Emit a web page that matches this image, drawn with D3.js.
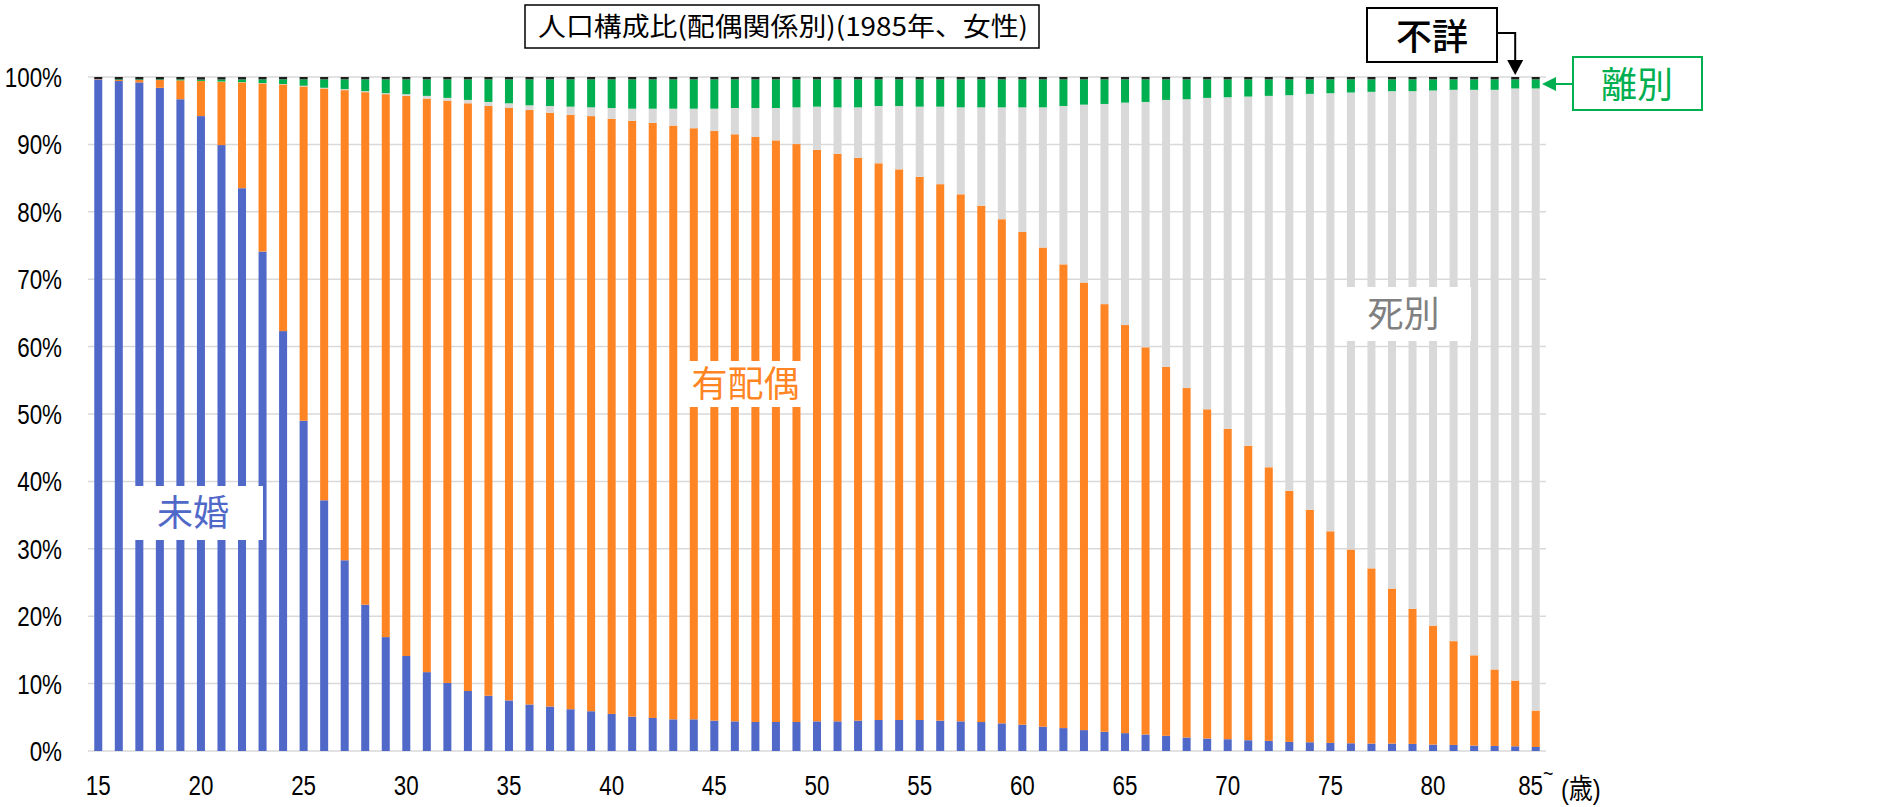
<!DOCTYPE html>
<html>
<head>
<meta charset="utf-8">
<script src="https://cdn.jsdelivr.net/npm/d3@7"></script>
<style>
  body { margin: 0; background: #fff; }
  svg { display: block; }
  .tick-label { font-family: "Liberation Sans", "Noto Sans CJK JP", sans-serif; font-size: 28px; fill: #000; }
  .cjk { font-family: "Noto Sans CJK JP", sans-serif; }
</style>
</head>
<body>
<svg width="1883" height="807"></svg>
<script>
// age groups (15 .. 85~)
var ages = ["15","16","17","18","19","20","21","22","23","24","25","26","27","28","29",
  "30","31","32","33","34","35","36","37","38","39","40","41","42","43","44",
  "45","46","47","48","49","50","51","52","53","54","55","56","57","58","59",
  "60","61","62","63","64","65","66","67","68","69","70","71","72","73","74",
  "75","76","77","78","79","80","81","82","83","84","85~"];

// share of each marital status, %
var mikon = [99.65,99.4,99.2,98.4,96.7,94.2,89.9,83.5,74.1,62.3,49.0,37.2,28.3,21.7,16.9,
  14.1,11.7,10.1,8.9,8.2,7.5,6.9,6.6,6.2,5.9,5.5,5.1,4.9,4.7,4.7,
  4.5,4.4,4.3,4.3,4.3,4.4,4.4,4.5,4.6,4.6,4.6,4.5,4.4,4.3,4.1,
  3.9,3.6,3.4,3.1,2.85,2.65,2.45,2.25,2.0,1.85,1.75,1.6,1.5,1.35,1.3,
  1.2,1.15,1.1,1.1,1.05,0.95,0.9,0.8,0.75,0.7,0.6];
var haigusha = [0.05,0.15,0.35,1.15,2.8,5.2,9.4,15.7,24.95,36.6,49.6,61.1,69.75,76.05,80.55,
  83.1,85.1,86.4,87.2,87.5,87.9,88.2,88.1,88.2,88.3,88.3,88.4,88.3,88.1,87.7,
  87.5,87.1,86.8,86.3,85.75,84.8,84.2,83.5,82.6,81.7,80.6,79.6,78.2,76.6,74.8,
  73.1,71.1,68.8,66.4,63.45,60.55,57.45,54.75,51.85,48.85,46.05,43.7,40.6,37.25,34.5,
  31.4,28.75,26.0,23.0,20.05,17.65,15.4,13.4,11.35,9.75,5.4];
var shibetsu = [0,0,0,0,0,0.02,0.03,0.04,0.05,0.06,0.1,0.1,0.15,0.15,0.15,
  0.25,0.4,0.4,0.5,0.6,0.7,0.7,1.0,1.2,1.3,1.6,1.8,2.1,2.5,2.9,
  3.3,3.9,4.3,4.8,5.45,6.4,6.9,7.5,8.5,9.4,10.4,11.5,12.9,14.6,16.6,
  18.5,20.8,23.5,26.4,29.7,33.0,36.4,39.6,42.85,46.2,49.2,51.8,55.1,58.7,61.7,
  65.0,67.8,70.7,73.8,76.8,79.4,81.8,83.9,86.0,87.85,92.3];
var ribetsu = [0,0.1,0.1,0.1,0.15,0.2,0.3,0.4,0.55,0.7,0.95,1.25,1.45,1.75,2.05,
  2.2,2.45,2.75,3.05,3.35,3.55,3.85,3.95,4.05,4.15,4.25,4.35,4.35,4.35,4.35,
  4.35,4.25,4.25,4.25,4.15,4.05,4.15,4.15,3.95,3.95,4.05,4.05,4.15,4.15,4.15,
  4.15,4.15,3.95,3.75,3.65,3.45,3.35,3.05,2.95,2.75,2.65,2.55,2.45,2.35,2.15,
  2.05,1.95,1.85,1.75,1.75,1.65,1.55,1.55,1.55,1.35,1.35];
var fusho = [0.3,0.35,0.35,0.35,0.35,0.35,0.35,0.35,0.35,0.35,0.35,0.35,0.35,0.35,0.35,
  0.35,0.35,0.35,0.35,0.35,0.35,0.35,0.35,0.35,0.35,0.35,0.35,0.35,0.35,0.35,
  0.35,0.35,0.35,0.35,0.35,0.35,0.35,0.35,0.35,0.35,0.35,0.35,0.35,0.35,0.35,
  0.35,0.35,0.35,0.35,0.35,0.35,0.35,0.35,0.35,0.35,0.35,0.35,0.35,0.35,0.35,
  0.35,0.35,0.35,0.35,0.35,0.35,0.35,0.35,0.35,0.35,0.35];

var yTicks = [0,10,20,30,40,50,60,70,80,90,100];
var xTickLabels = ["15","20","25","30","35","40","45","50","55","60","65","70","75","80","85~"];

var keys = ["mikon","haigusha","shibetsu","ribetsu","fusho"];
var colors = {mikon: "#5068c8", haigusha: "#ff8424", shibetsu: "#d9d9d9", ribetsu: "#00b050", fusho: "#1e1e1e"};

var data = ages.map(function(a, i) {
  return {age: a, mikon: mikon[i], haigusha: haigusha[i], shibetsu: shibetsu[i], ribetsu: ribetsu[i], fusho: fusho[i]};
});

var svg = d3.select("svg");
var narrow = 0.8; // the labels use a condensed face

var x = d3.scaleBand().domain(ages).range([88, 1546]).paddingInner(0.61).paddingOuter(0.305);
var y = d3.scaleLinear().domain([0, 100]).range([751, 77]);

// gridlines
svg.append("g").selectAll("line")
  .data(yTicks)
  .enter().append("line")
    .attr("x1", 88).attr("x2", 1546)
    .attr("y1", function(d) { return y(d); })
    .attr("y2", function(d) { return y(d); })
    .attr("stroke", "#d9d9d9")
    .attr("stroke-width", 1.5);

// y labels
svg.append("g").selectAll("text")
  .data(yTicks)
  .enter().append("text")
    .attr("class", "tick-label")
    .attr("transform", function(d) { return "translate(62," + y(d) + ") scale(" + narrow + ",1)"; })
    .attr("dy", "0.36em")
    .attr("text-anchor", "end")
    .text(function(d) { return d + "%"; });

// stacked bars
var series = d3.stack().keys(keys)(data);
svg.append("g").selectAll("g")
  .data(series)
  .enter().append("g")
    .attr("fill", function(d) { return colors[d.key]; })
  .selectAll("rect")
  .data(function(d) { return d; })
  .enter().append("rect")
    .attr("x", function(d) { return x(d.data.age); })
    .attr("width", x.bandwidth())
    .attr("y", function(d) { return y(d[1]); })
    .attr("height", function(d) { return Math.max(0, y(d[0]) - y(d[1])); });

// x labels
var xl = svg.append("g").selectAll("text")
  .data(xTickLabels)
  .enter().append("text")
    .attr("class", "tick-label")
    .attr("transform", function(d) { return "translate(" + (x(d) + x.bandwidth() / 2) + ",795) scale(" + narrow + ",1)"; })
    .attr("text-anchor", "middle");
xl.each(function(d) {
  var t = d3.select(this);
  if (d.indexOf("~") >= 0) {
    t.append("tspan").text(d.replace("~", ""));
    t.append("tspan").attr("dy", -14).attr("font-size", 22).text("~");
  } else {
    t.text(d);
  }
});
svg.append("text")
  .attr("class", "tick-label")
  .attr("transform", "translate(1561,799) scale(0.85,1)")
  .attr("font-size", 26)
  .text("(歳)");

// title
svg.append("rect")
  .attr("x", 525).attr("y", 5).attr("width", 514).attr("height", 43)
  .attr("fill", "#fff").attr("stroke", "#000").attr("stroke-width", 1.5);
svg.append("text")
  .attr("class", "cjk")
  .attr("x", 538).attr("y", 36)
  .attr("font-size", 26)
  .attr("textLength", 490)
  .attr("lengthAdjust", "spacingAndGlyphs")
  .text("人口構成比(配偶関係別)(1985年、女性)");

// in-chart labels with white boxes
function boxLabel(x0, y0, w, h, txt, col) {
  svg.append("rect").attr("x", x0).attr("y", y0).attr("width", w).attr("height", h).attr("fill", "#fff");
  svg.append("text")
    .attr("class", "cjk")
    .attr("x", x0 + w / 2).attr("y", y0 + h / 2)
    .attr("dy", "0.36em")
    .attr("text-anchor", "middle")
    .attr("font-size", 36)
    .attr("fill", col)
    .text(txt);
}
boxLabel(123, 486, 140, 54, "未婚", "#5068c8");
boxLabel(678, 361, 135, 46, "有配偶", "#ff8424");
boxLabel(1336, 287, 135, 54, "死別", "#808080");

// 不詳 callout
svg.append("rect")
  .attr("x", 1367).attr("y", 8).attr("width", 130).attr("height", 54)
  .attr("fill", "#fff").attr("stroke", "#000").attr("stroke-width", 2);
svg.append("text")
  .attr("class", "cjk")
  .attr("x", 1432).attr("y", 37).attr("dy", "0.36em")
  .attr("text-anchor", "middle")
  .attr("font-size", 36).attr("font-weight", 500)
  .text("不詳");
var px = x("84") + x.bandwidth() / 2;
svg.append("path")
  .attr("d", "M1497,33 H" + px + " V62")
  .attr("fill", "none").attr("stroke", "#000").attr("stroke-width", 2);
svg.append("path")
  .attr("d", "M" + (px - 8) + ",60 L" + (px + 8) + ",60 L" + px + ",75 Z")
  .attr("fill", "#000");

// 離別 callout
svg.append("rect")
  .attr("x", 1573).attr("y", 57).attr("width", 129).attr("height", 53)
  .attr("fill", "#fff").attr("stroke", "#00b050").attr("stroke-width", 2);
svg.append("text")
  .attr("class", "cjk")
  .attr("x", 1637).attr("y", 85).attr("dy", "0.36em")
  .attr("text-anchor", "middle")
  .attr("font-size", 36)
  .attr("fill", "#00b050")
  .text("離別");
svg.append("line")
  .attr("x1", 1573).attr("x2", 1553).attr("y1", 84).attr("y2", 84)
  .attr("stroke", "#00b050").attr("stroke-width", 2);
svg.append("path")
  .attr("d", "M1542,84 L1556,77 L1556,91 Z")
  .attr("fill", "#00b050");
</script>
</body>
</html>
